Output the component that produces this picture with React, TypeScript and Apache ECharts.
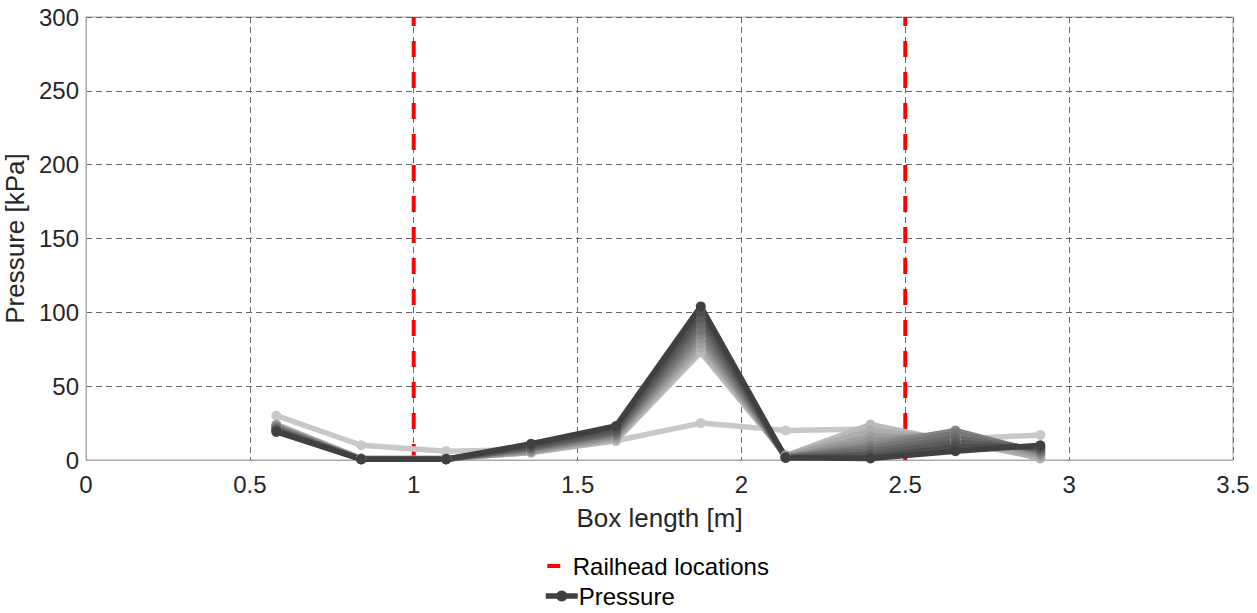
import React, { useEffect, useRef } from "react";
import * as echarts from "echarts";

const boxLength = [0.581, 0.84, 1.099, 1.358, 1.617, 1.876, 2.135, 2.394, 2.653, 2.912];

const p0 = [30, 10, 6, 7, 13, 25, 20, 21, 14, 17];
const p1 = [24, 1, 1, 5, 13, 73, 3, 24, 12, 2];
const p2 = [24, 1, 1, 5, 14, 76, 3, 20, 14, 1];
const p3 = [23, 1, 1, 6, 15, 79, 3, 16, 16, 3];
const p4 = [23, 0.5, 0.5, 6, 16, 82, 2, 13, 18, 4];
const p5 = [22, 0.5, 0.5, 7, 17, 85, 2, 10, 20, 5];
const p6 = [22, 0.5, 0.5, 8, 18, 88, 2, 8, 18, 6];
const p7 = [21, 0.5, 0.5, 8, 19, 92, 2, 6, 15, 7];
const p8 = [20, 0.5, 0.5, 9, 20, 96, 1.5, 4, 12, 8];
const p9 = [20, 0.5, 0.5, 10, 22, 100, 1.5, 2, 9, 9];
const p10 = [19, 0.5, 0.5, 11, 23, 104, 1.5, 1, 6, 10];
const pressureRuns = [p0, p1, p2, p3, p4, p5, p6, p7, p8, p9, p10];

const railheads = [1, 2.5];
const yRange = [0, 300];

const FONT = "'Liberation Sans', Arial, sans-serif";

function grayFor(i: number, n: number) {
  const light = 200;
  const dark = 64;
  const v = Math.round(light + (dark - light) * (i / (n - 1)));
  return `rgb(${v},${v},${v})`;
}

export default function App() {
  const ref = useRef<HTMLDivElement>(null);
  useEffect(() => {
    if (!ref.current) return;
    const chart = echarts.init(ref.current, undefined, { renderer: "svg" });
    const n = pressureRuns.length;
    const pressureSeries = pressureRuns.map((run, i) => ({
      name: "Pressure",
      type: "line",
      data: run.map((v, k) => [boxLength[k], v]),
      lineStyle: { color: grayFor(i, n), width: 5.5 },
      itemStyle: { color: grayFor(i, n) },
      symbol: "circle",
      symbolSize: 10,
      showSymbol: true,
      z: 3,
      silent: true,
    }));
    const railSeries = railheads.map((x) => ({
      name: "Railhead locations",
      type: "line",
      data: [
        [x, yRange[0]],
        [x, yRange[1]],
      ],
      symbol: "none",
      lineStyle: { color: "#ff0000", width: 4, type: [16, 15] },
      itemStyle: { color: "#ff0000" },
      z: 2,
      silent: true,
    }));
    chart.setOption({
      animation: false,
      grid: {
        left: 86,
        right: 24,
        top: 17,
        bottom: 153,
        show: true,
        borderColor: "#a8a8a8",
        borderWidth: 1,
        outerBoundsMode: "none",
      },
      xAxis: {
        type: "value",
        min: 0,
        max: 3.5,
        interval: 0.5,
        name: "Box length [m]",
        nameLocation: "middle",
        nameGap: 45,
        nameTextStyle: { fontSize: 26, color: "#262626", fontFamily: FONT },
        axisLine: { show: true, lineStyle: { color: "#a8a8a8" } },
        axisTick: { show: false },
        axisLabel: { fontSize: 24, color: "#262626", fontFamily: FONT, margin: 12 },
        splitLine: { show: true, lineStyle: { color: "#666666", type: [6, 4], width: 1 } },
      },
      yAxis: {
        type: "value",
        min: 0,
        max: 300,
        interval: 50,
        name: "Pressure [kPa]",
        nameLocation: "middle",
        nameGap: 52,
        nameTextStyle: { fontSize: 26, color: "#262626", fontFamily: FONT },
        axisLine: { show: true, lineStyle: { color: "#a8a8a8" } },
        axisTick: { show: false },
        axisLabel: { fontSize: 24, color: "#262626", fontFamily: FONT, margin: 7 },
        splitLine: { show: true, lineStyle: { color: "#666666", type: [6, 4], width: 1 } },
      },
      legend: {
        orient: "vertical",
        left: 543,
        top: 554,
        itemGap: 6,
        itemWidth: 32,
        itemHeight: 14,
        padding: 0,
        textStyle: { fontSize: 24, color: "#000", fontFamily: FONT, padding: [0, 0, 0, -4] },
        data: [
          {
            name: "Railhead locations",
            icon: "path://M0,0L0.01,0L0,0.01ZM32,14L31.99,14L32,13.99ZM1.5,5H14.5V9H1.5Z",
            itemStyle: { color: "#ff0000" },
            textStyle: { padding: [0, 0, 0, -10] },
          },
          {
            name: "Pressure",
            itemStyle: { color: "#404040" },
            lineStyle: { color: "#404040", width: 5.5 },
          },
        ],
      },
      series: [...railSeries, ...pressureSeries],
    });
    return () => chart.dispose();
  }, []);
  return <div ref={ref} style={{ width: 1257, height: 613, position: "absolute", left: 0, top: 0 }} />;
}
